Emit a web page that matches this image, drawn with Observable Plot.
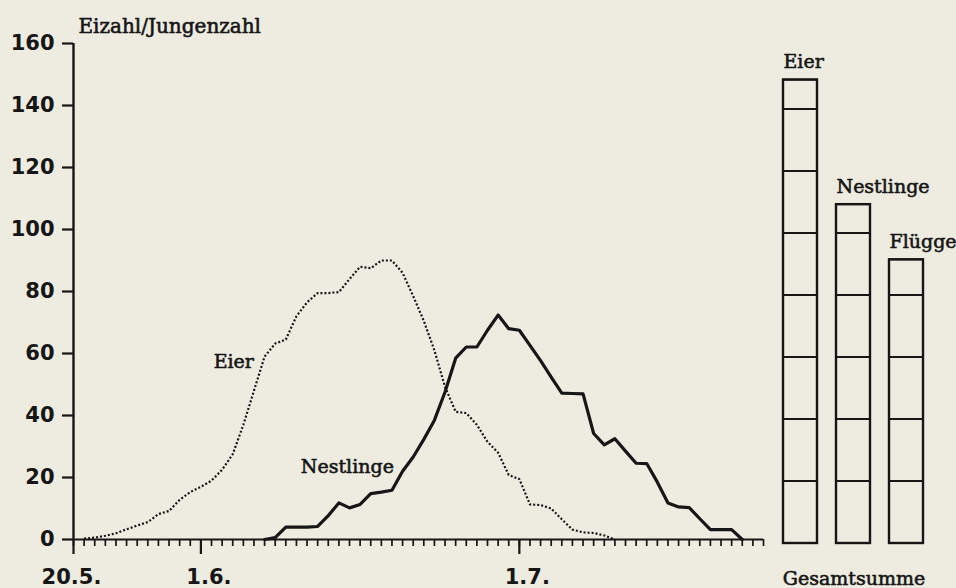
<!DOCTYPE html>
<html>
<head>
<meta charset="utf-8">
<script src="https://cdn.jsdelivr.net/npm/d3@7"></script>
<script src="https://cdn.jsdelivr.net/npm/@observablehq/plot@0.6"></script>
<style>
  html, body { margin: 0; padding: 0; background: #eeece1; }
  #wrap { position: relative; width: 956px; height: 588px; overflow: hidden; background: #eeece1; }
  #wrap svg { position: absolute; top: 0; }
</style>
</head>
<body>
<div id="wrap"></div>
<script>
// ---- data ----
const startDate = new Date(Date.UTC(1985, 4, 20));   // 20.5.
const lastAxisDay = 65;                               // axis runs to 24.7.
const majorTickDays = [0, 12, 42];                    // 20.5., 1.6., 1.7.
const yTicks = [0, 20, 40, 60, 80, 100, 120, 140, 160];

// Eier (number of eggs present), daily from day 1 (21.5.)
const eierFirstDay = 1;
const eierValues = [
  0.3, 0.6, 1.2, 2, 3.3, 4.5, 5.6, 8.2, 9.2, 12.8,
  15.3, 17, 19, 22.5, 27.5, 37, 48, 59, 63.2, 64.5,
  72, 76.5, 79.5, 79.5, 79.8, 84, 88, 87.5, 90, 90,
  86, 78.5, 70.5, 61, 49.2, 41.2, 40.8, 37, 31.5, 28,
  20.8, 19.5, 11.3, 11.1, 10, 6.5, 3.2, 2.3, 2.1, 1.3,
  0
];

// Nestlinge (nestlings present), daily from day 18 (7.6.)
const nestFirstDay = 18;
const nestValues = [
  0, 0.6, 4, 4, 4, 4.2, 7.7, 11.8, 10.2, 11.3,
  14.8, 15.3, 15.9, 22, 26.6, 32.3, 38.5, 47.6, 58.5, 62.1,
  62.1, 67.5, 72.4, 68, 67.5, 62.6, 57.7, 52.4, 47.2, 47.1,
  47, 34.2, 30.5, 32.5, 28.5, 24.6, 24.5, 18.5, 11.8, 10.5,
  10.3, 6.7, 3.2, 3.2, 3.2, 0
];

// Gesamtsumme bars
const totalCategories = ["Eier", "Nestlinge", "Flügge"];
const totalValues = [149.5, 109.3, 91.5];
const segmentStep = 20;

// in-chart curve labels (day index, value)
const curveLabelTexts = ["Eier", "Nestlinge"];
const curveLabelDays = [15.1, 25.8];
const curveLabelValues = [57.2, 23.3];

// ---- build ----
const ink = "#161616";
const dayToDate = d => new Date(startDate.getTime() + d * 864e5);
const eierData = eierValues.map((v, i) => ({date: dayToDate(eierFirstDay + i), value: v}));
const nestData = nestValues.map((v, i) => ({date: dayToDate(nestFirstDay + i), value: v}));
const allDays = d3.range(0, lastAxisDay + 1).map(dayToDate);
const majorDates = majorTickDays.map(dayToDate);
const curveLabels = curveLabelTexts.map((t, i) => ({text: t, date: dayToDate(curveLabelDays[i]), value: curveLabelValues[i]}));
const fmt = d3.utcFormat("%-d.%-m.");

const serif = "'DejaVu Serif', serif";
const sans = "'DejaVu Sans', sans-serif";
const serifStyle = {fontFamily: serif, fontSize: 19, fill: ink, stroke: ink, strokeWidth: 0.6};
const tickTextStyle = {tickSize: 0, tickPadding: 30, tickFormat: fmt, fontSize: 21, fontWeight: "bold",
  fontFamily: sans, fill: ink, stroke: "none", label: null};

const main = Plot.plot({
  width: 773,
  height: 588,
  marginLeft: 73,
  marginRight: 10,
  marginTop: 43,
  marginBottom: 49,
  style: {background: "transparent", color: ink, overflow: "visible"},
  x: {type: "utc", domain: [dayToDate(0), dayToDate(lastAxisDay)]},
  y: {domain: [0, 160]},
  marks: [
    Plot.axisX(allDays, {tickSize: 7, tickFormat: () => "", strokeWidth: 1.7, stroke: ink, label: null}),
    Plot.axisX(majorDates, {tickSize: 15, tickFormat: () => "", strokeWidth: 2.2, stroke: ink, label: null}),
    Plot.axisX(majorDates.slice(0, 1), {...tickTextStyle, dx: -2}),
    Plot.axisX(majorDates.slice(1), {...tickTextStyle, dx: 8}),
    Plot.axisY(yTicks, {tickSize: 11, tickPadding: 8, fontSize: 21, fontWeight: "bold",
      fontFamily: sans, strokeWidth: 2.2, stroke: ink, fill: ink, label: null}),
    Plot.ruleY([0], {stroke: ink, strokeWidth: 2.2}),
    Plot.ruleX([dayToDate(0)], {stroke: ink, strokeWidth: 2.4}),
    Plot.line(eierData, {x: "date", y: "value", stroke: ink, strokeWidth: 2.2,
      strokeDasharray: "2,2", strokeLinecap: "butt", strokeLinejoin: "miter"}),
    Plot.line(nestData, {x: "date", y: "value", stroke: ink, strokeWidth: 3.2, strokeLinejoin: "round"}),
    Plot.text(curveLabels, {x: "date", y: "value", text: "text", ...serifStyle}),
    Plot.text(["Eizahl/Jungenzahl"], {frameAnchor: "top-left", textAnchor: "start", lineAnchor: "bottom",
      dx: 5, dy: -11, ...serifStyle, fontSize: 20})
  ]
});

const totals = totalCategories.map((c, i) => ({cat: c, value: totalValues[i]}));
const cells = [];
totals.forEach(t => {
  for (let lo = 0; lo < t.value; lo += segmentStep) {
    cells.push({cat: t.cat, y1: lo, y2: Math.min(lo + segmentStep, t.value)});
  }
});

const bars = Plot.plot({
  width: 183,
  height: 588,
  marginLeft: 10,
  marginRight: 32,
  marginTop: 47,
  marginBottom: 45,
  style: {background: "transparent", color: ink, overflow: "visible"},
  x: {type: "band", domain: totalCategories, paddingInner: 0.36, paddingOuter: 0, align: 0, axis: null},
  y: {domain: [0, 160], axis: null},
  marks: [
    Plot.barY(cells, {x: "cat", y1: "y1", y2: "y2", fill: "none", stroke: ink, strokeWidth: 1.8}),
    Plot.barY(totals, {x: "cat", y: "value", fill: "none", stroke: ink, strokeWidth: 2.4}),
    Plot.text(totals, {x: "cat", y: "value", text: "cat", textAnchor: "start", lineAnchor: "bottom",
      dx: -17, dy: -12, ...serifStyle}),
    Plot.text(["Gesamtsumme"], {frameAnchor: "bottom", lineAnchor: "bottom", dy: 41, ...serifStyle})
  ]
});

const wrap = document.getElementById("wrap");
main.style.left = "0px";
bars.style.left = "773px";
wrap.appendChild(main);
wrap.appendChild(bars);
</script>
</body>
</html>
